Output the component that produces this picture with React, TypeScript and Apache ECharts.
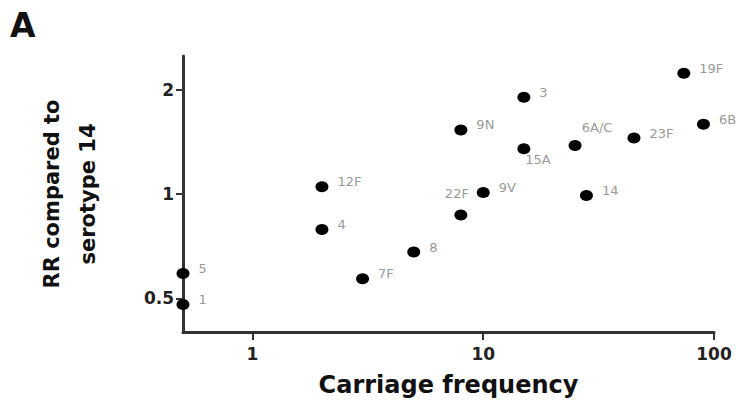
import React, { useEffect, useRef } from "react";
import * as echarts from "echarts";

// ---- data ----
const serotypes = ["1", "3", "4", "5", "6A/C", "6B", "7F", "8", "9N", "9V", "12F", "14", "15A", "19F", "22F", "23F"];
const carriageFrequency = [0.5, 15, 2, 0.5, 25, 90, 3, 5, 8, 10, 2, 28, 15, 74, 8, 45];
const relativeRisk = [0.48, 1.9, 0.79, 0.59, 1.38, 1.59, 0.57, 0.68, 1.53, 1.01, 1.05, 0.99, 1.35, 2.23, 0.87, 1.45];
const xTickValues = [1, 10, 100];
const yTickValues = [0.5, 1, 2];

const xTitle = "Carriage frequency";
const yTitle = "RR compared to\nserotype 14";
const panelLetter = "A";

// ---- label placement (style only) ----
const defaultLabel = { position: "right", distance: 9, offset: [0, -5] };
const labelPlacement: Record<string, any> = {
  "6A/C": { position: "top", distance: 5, offset: [22, -1] },
  "22F": { position: "top", distance: 5, offset: [-4, -4] },
  "15A": { position: "bottom", distance: 5, offset: [14, -6] },
};

const FONT = "DejaVu Sans";

export default function App() {
  const ref = useRef<HTMLDivElement>(null);

  useEffect(() => {
    if (!ref.current) return;
    const chart = echarts.init(ref.current, undefined, { renderer: "svg" });

    const points = serotypes.map((name, i) => ({
      name,
      value: [carriageFrequency[i], relativeRisk[i]],
      label: { ...(labelPlacement[name] || defaultLabel) },
    }));

    const axisLineStyle = { color: "#333", width: 3 };

    chart.setOption({
      animation: false,
      backgroundColor: "#ffffff",
      grid: {
        left: 183,
        right: 22,
        top: 56,
        bottom: 68,
        containLabel: false,
        outerBoundsMode: "none",
      },
      graphic: [
        {
          type: "text",
          left: 10,
          top: 9,
          style: {
            text: panelLetter,
            fontSize: 33,
            fontWeight: "bold",
            fontFamily: FONT,
            fill: "#111",
          },
        },
      ],
      xAxis: {
        type: "log",
        logBase: 10,
        min: 0.5,
        max: 100,
        name: xTitle,
        nameLocation: "middle",
        nameGap: 41,
        nameTextStyle: {
          fontSize: 24,
          fontWeight: "bold",
          fontFamily: FONT,
          color: "#111",
        },
        axisLine: { show: true, lineStyle: axisLineStyle },
        axisTick: {
          show: true,
          length: 8,
          lineStyle: { color: "#333", width: 2 },
          customValues: xTickValues,
        },
        axisLabel: {
          customValues: xTickValues,
          fontSize: 17,
          fontWeight: "bold",
          fontFamily: FONT,
          color: "#222",
          margin: 13,
        },
        splitLine: { show: false },
        minorTick: { show: false },
      },
      yAxis: {
        type: "log",
        logBase: 2,
        min: 0.4,
        max: 2.5,
        name: yTitle,
        nameLocation: "middle",
        nameRotate: 90,
        nameGap: 77,
        nameTextStyle: {
          fontSize: 21,
          lineHeight: 36,
          fontWeight: "bold",
          fontFamily: FONT,
          color: "#111",
          align: "center",
        },
        axisLine: { show: true, lineStyle: axisLineStyle },
        axisTick: {
          show: true,
          length: 7,
          lineStyle: { color: "#333", width: 2 },
          customValues: yTickValues,
        },
        axisLabel: {
          customValues: yTickValues,
          fontSize: 17,
          fontWeight: "bold",
          fontFamily: FONT,
          color: "#222",
          margin: 9,
        },
        splitLine: { show: false },
        minorTick: { show: false },
      },
      series: [
        {
          type: "scatter",
          clip: false,
          symbol: "circle",
          symbolSize: [13, 11],
          itemStyle: { color: "#000", opacity: 1 },
          label: {
            show: true,
            formatter: "{b}",
            fontSize: 13,
            fontFamily: FONT,
            color: "#999",
          },
          data: points,
          z: 5,
        },
      ],
    });

    return () => chart.dispose();
  }, []);

  return (
    <div
      ref={ref}
      style={{ position: "fixed", left: 0, top: 0, width: 736, height: 400, background: "#fff" }}
    />
  );
}
